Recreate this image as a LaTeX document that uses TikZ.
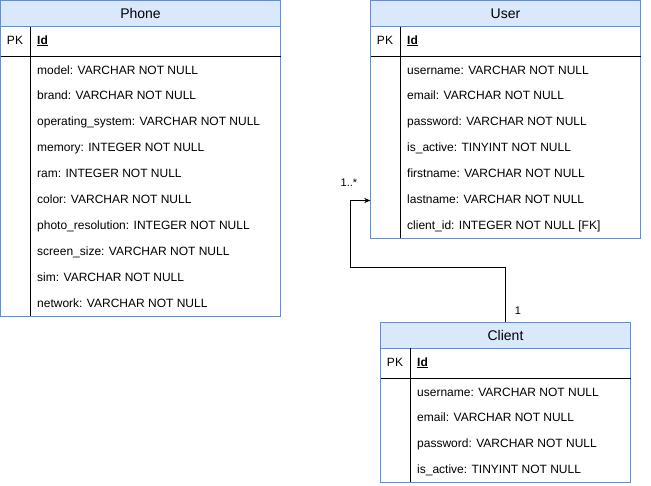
\documentclass[tikz,border=0pt]{standalone}
\usepackage{fontspec}
\setmainfont{Liberation Sans}
\usetikzlibrary{arrows.meta, positioning}
\definecolor{hdrblue}{HTML}{DAE8FC}
\definecolor{edgeblue}{HTML}{6C8EBF}

\begin{document}
\begin{tikzpicture}[
    x=1pt, y=-1pt,
    hdr/.style={draw=edgeblue, fill=hdrblue, minimum height=26pt, inner sep=0pt, font=\fontsize{14}{16}\selectfont},
    body/.style={draw=edgeblue, inner sep=0pt},
    fld/.style={anchor=west, inner sep=0pt, text height=8.6pt, text depth=2.6pt, font=\fontsize{12}{14}\selectfont},
    pk/.style={inner sep=0pt, text height=8.6pt, text depth=2.6pt, font=\fontsize{12}{14}\selectfont},
    lbl/.style={inner sep=0pt, font=\fontsize{11}{13}\selectfont},
    conn/.style={draw, -{Stealth[length=6pt, width=5pt]}}
  ]
    \useasboundingbox (0,0) rectangle (651,485);

    % Phone
    \node[body, minimum width=280pt, minimum height=290pt] (pbody) at (140.5,171) {};
    \node[hdr, minimum width=280pt] (phdr) at (140.5,13.5) {Phone};
    \draw (0.5,56) -- (280.5,56);
    \draw (30,26.5) -- (30,316);
    \node[pk] (ppk) at (15,41) {PK};
    \node[fld] (pid) at (37,41) {\textbf{\underline{Id}}};
    \foreach \i/\t in {0/model: VARCHAR NOT NULL, 1/brand: VARCHAR NOT NULL,
        2/operating\_system: VARCHAR NOT NULL, 3/memory: INTEGER NOT NULL,
        4/ram: INTEGER NOT NULL, 5/color: VARCHAR NOT NULL,
        6/photo\_resolution: INTEGER NOT NULL, 7/screen\_size: VARCHAR NOT NULL,
        8/sim: VARCHAR NOT NULL, 9/network: VARCHAR NOT NULL} {
      \node[fld] (p\i) at (37,71+25.9*\i) {\t};
    }

    % User
    \node[body, minimum width=270pt, minimum height=212pt] (ubody) at (505.5,132) {};
    \node[hdr, minimum width=270pt] (uhdr) at (505.5,13.5) {User};
    \draw (370.5,56) -- (640.5,56);
    \draw (400,26.5) -- (400,238);
    \node[pk] (upk) at (385,41) {PK};
    \node[fld] (uid) at (407,41) {\textbf{\underline{Id}}};
    \foreach \i/\t in {0/username: VARCHAR NOT NULL, 1/email: VARCHAR NOT NULL,
        2/password: VARCHAR NOT NULL, 3/is\_active: TINYINT NOT NULL,
        4/firstname: VARCHAR NOT NULL, 5/lastname: VARCHAR NOT NULL,
        6/client\_id: INTEGER NOT NULL [FK]} {
      \node[fld] (u\i) at (407,71+25.9*\i) {\t};
    }

    % Client
    \node[body, minimum width=250pt, minimum height=134pt] (cbody) at (505.5,415) {};
    \node[hdr, minimum width=250pt] (chdr) at (505.5,335) {Client};
    \draw (380.5,378) -- (630.5,378);
    \draw (410,348) -- (410,482);
    \node[pk] (cpk) at (395,363) {PK};
    \node[fld] (cid) at (417,363) {\textbf{\underline{Id}}};
    \foreach \i/\t in {0/username: VARCHAR NOT NULL, 1/email: VARCHAR NOT NULL,
        2/password: VARCHAR NOT NULL, 3/is\_active: TINYINT NOT NULL} {
      \node[fld] (c\i) at (417,393+25.7*\i) {\t};
    }

    % relation
    \coordinate (bend) at (350.5,267);
    \draw[conn] (chdr.north) |- (bend) |- (ubody.west |- u5);
    \node[lbl] (many) at (349,183) {1..*};
    \node[lbl] (one) at (518,311) {1};
\end{tikzpicture}
\end{document}
